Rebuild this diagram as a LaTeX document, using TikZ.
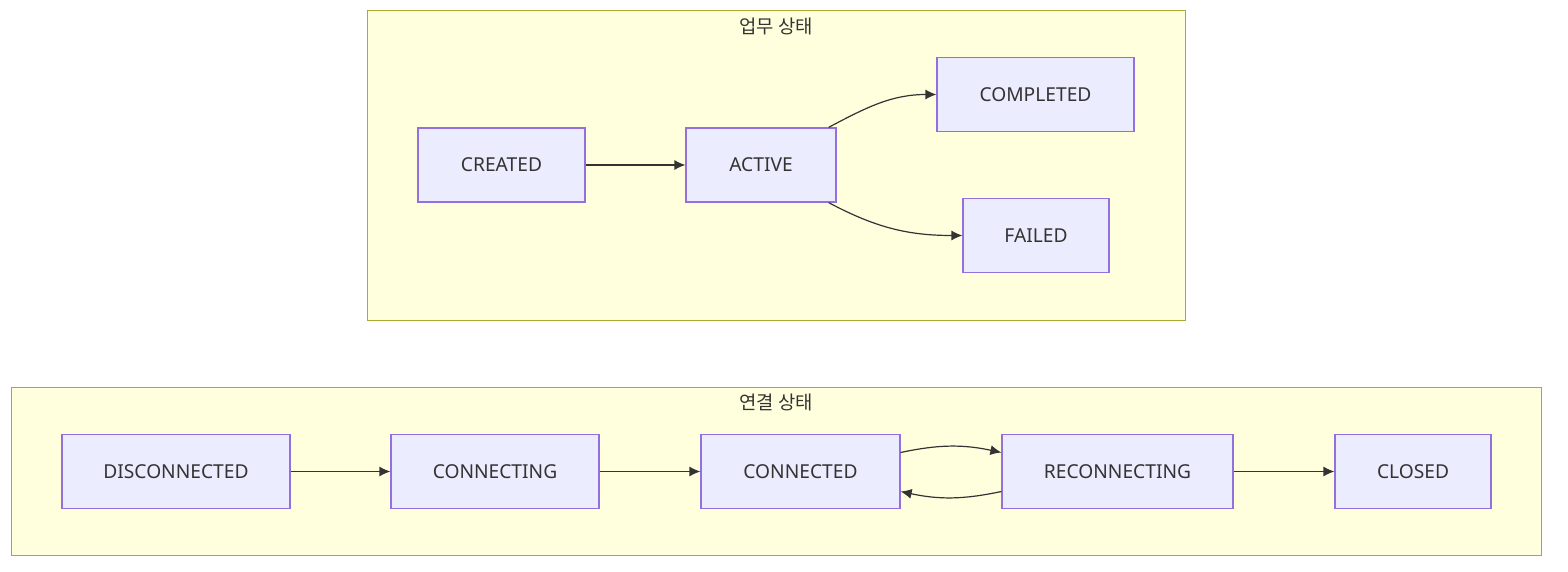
\documentclass[tikz,border=0pt]{standalone}
\usepackage{fontspec}
\setmainfont{Noto Sans}
\newfontfamily\kofont{Noto Sans CJK KR}
\usetikzlibrary{arrows.meta}
\definecolor{nodefill}{HTML}{ECECFF}
\definecolor{nodeline}{HTML}{9370DB}
\definecolor{clusterfill}{HTML}{FFFFDE}
\definecolor{clusterline}{HTML}{AAAA33}
\definecolor{edgecol}{HTML}{333333}
\begin{document}
\begin{tikzpicture}[
			x=0.5pt, y=-0.5pt,
			state/.style={rectangle, draw=nodeline, fill=nodefill, line width=0.6pt, minimum height=37pt, inner sep=0pt, font=\fontsize{9.6}{11}\selectfont, text=edgecol},
			cluster/.style={draw=clusterline, fill=clusterfill, line width=0.5pt},
			clabel/.style={font=\kofont\fontsize{9.4}{11}\selectfont, text=edgecol},
			trans/.style={-{Latex[length=5.5pt,width=5pt]}, draw=edgecol, line width=0.6pt}
			]
			\useasboundingbox (0,0) rectangle (1568,572);
			
			% clusters
			\draw[cluster] (367,11) rectangle (1185,320);
			\node[clabel] (tasklabel) at (776,26) {업무 상태};
			\draw[cluster] (11,387) rectangle (1541,555);
			\node[clabel] (connlabel) at (776,402) {연결 상태};
			
			% task states
			\node[state, minimum width=83.5pt] (created) at (501.5,165) {CREATED};
			\node[state, minimum width=75pt] (active) at (761,165) {ACTIVE};
			\node[state, minimum width=98.5pt] (completed) at (1035.5,94.5) {COMPLETED};
			\node[state, minimum width=73pt] (failed) at (1036,235.5) {FAILED};
			
			\draw[trans] (created) -- (active);
			\draw[trans] ([xshift=-4pt]active.north east) to[out=28, in=180] (completed.west);
			\draw[trans] ([xshift=-4pt]active.south east) to[out=-28, in=180] (failed.west);
			
			% connection states
			\node[state, minimum width=114pt] (disconnected) at (176,471.5) {DISCONNECTED};
			\node[state, minimum width=104pt] (connecting) at (495,471.5) {CONNECTING};
			\node[state, minimum width=99.5pt] (connected) at (800.5,471.5) {CONNECTED};
			\node[state, minimum width=115.5pt] (reconnecting) at (1117.5,471.5) {RECONNECTING};
			\node[state, minimum width=78pt] (closed) at (1413,471.5) {CLOSED};
			
			\draw[trans] (disconnected) -- (connecting);
			\draw[trans] (connecting) -- (connected);
			\draw[trans] ([yshift=9.5pt]connected.east) to[bend left=12] ([yshift=9.5pt]reconnecting.west);
			\draw[trans] ([yshift=-10pt]reconnecting.west) to[bend left=12] ([yshift=-10pt]connected.east);
			\draw[trans] (reconnecting) -- (closed);
		\end{tikzpicture}
\end{document}
